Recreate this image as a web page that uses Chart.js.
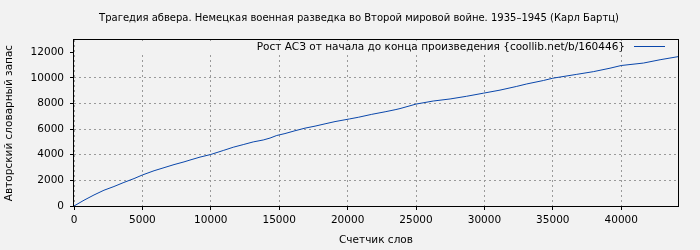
<!DOCTYPE html>
<html><head><meta charset="utf-8">
<script src="https://cdn.jsdelivr.net/npm/chart.js@4"></script>
<style>html,body{margin:0;padding:0;background:#f2f2f2;}#wrap{width:700px;height:250px;}</style>
</head><body><div id="wrap"><canvas id="c" width="700" height="250"></canvas></div>
<script>
const chartTitle = 'Трагедия абвера. Немецкая военная разведка во Второй мировой войне. 1935–1945 (Карл Бартц)';
const seriesLabel = 'Рост АСЗ от начала до конца произведения {coollib.net/b/160446}';
const xTitle = 'Счетчик слов';
const yTitle = 'Авторский словарный запас';
const words = [0, 730, 1460, 2190, 2920, 3650, 4390, 5000, 5850, 6580, 7310, 8040, 8480, 9210, 10000, 10910, 11640, 12370, 13100, 13830, 14330, 14820, 15420, 16150, 16890, 17620, 18350, 19080, 20130, 20780, 21760, 22740, 23470, 23830, 25000, 26260, 27490, 28700, 29920, 31140, 32360, 33090, 34310, 35000, 36750, 37960, 39180, 40000, 41620, 42840, 44150];
const vocab = [0, 450, 860, 1230, 1520, 1840, 2140, 2420, 2750, 2990, 3230, 3440, 3585, 3815, 4020, 4330, 4585, 4790, 5000, 5150, 5300, 5500, 5650, 5870, 6075, 6230, 6410, 6585, 6790, 6920, 7150, 7350, 7510, 7600, 7950, 8190, 8350, 8560, 8800, 9040, 9330, 9520, 9790, 9970, 10270, 10480, 10750, 10960, 11150, 11410, 11650];
const xTicks = [0, 5000, 10000, 15000, 20000, 25000, 30000, 35000, 40000];
const yTicks = [0, 2000, 4000, 6000, 8000, 10000, 12000];

const FONT = 'DejaVu Sans';
const bg = '#f2f2f2';

const deco = {
  id: 'deco',
  beforeDraw(chart) {
    const c = chart.ctx;
    c.save(); c.fillStyle = bg; c.fillRect(0, 0, chart.width, chart.height); c.restore();
  },
  beforeDatasetsDraw(chart) {
    const a = chart.chartArea, c = chart.ctx;
    c.save();
    c.fillStyle = bg;
    c.fillRect(a.left + 1, a.top + 1, a.right - a.left - 14, 11);
    c.restore();
  },
  afterDraw(chart) {
    const a = chart.chartArea, c = chart.ctx;
    c.save();
    c.strokeStyle = '#000'; c.lineWidth = 1; c.setLineDash([]);
    c.strokeRect(Math.round(a.left) - 0.5, Math.round(a.top) - 0.5, Math.round(a.right - a.left) + 1, Math.round(a.bottom - a.top) + 1);
    c.fillStyle = '#000';
    c.textAlign = 'center'; c.textBaseline = 'middle';
    c.font = '10px "' + FONT + '"';
    c.fillText(chartTitle, 359, 18);
    c.font = '10.5px "' + FONT + '"';
    c.fillText(xTitle, (a.left + a.right) / 2, 240);
    c.save();
    c.translate(9, (a.top + a.bottom) / 2);
    c.rotate(-Math.PI / 2);
    c.fillText(yTitle, 0, 0);
    c.restore();
    c.textAlign = 'right';
    c.fillText(seriesLabel, 625, 47);
    c.strokeStyle = chart.data.datasets[0].borderColor;
    c.beginPath(); c.moveTo(634, 46.5); c.lineTo(665, 46.5); c.stroke();
    c.restore();
  }
};

new Chart(document.getElementById('c'), {
  type: 'line',
  data: {
    datasets: [{
      label: seriesLabel,
      data: words.map((w, i) => ({x: w, y: vocab[i]})),
      borderColor: '#0a47ab',
      borderWidth: 1,
      pointRadius: 0,
      tension: 0,
      fill: false
    }]
  },
  options: {
    responsive: false,
    animation: false,
    devicePixelRatio: 1,
    layout: {padding: {top: 40, right: 22, left: 0, bottom: 0}},
    plugins: {legend: {display: false}, title: {display: false}, tooltip: {enabled: false}},
    scales: {
      x: {
        type: 'linear', min: 0, max: 44150,
        afterBuildTicks: s => { s.ticks = xTicks.map(v => ({value: v})); },
        afterFit: s => { s.height = 44; },
        border: {display: false, dash: [2, 3]},
        grid: {color: '#9a9a9a', lineWidth: 1, tickLength: 4, tickColor: '#000', tickBorderDash: [], drawOnChartArea: true},
        ticks: {color: '#000', font: {family: FONT, size: 10.5}, padding: 4, maxRotation: 0, autoSkip: false, callback: v => String(v)}
      },
      y: {
        type: 'linear', min: 0, max: 12950,
        afterBuildTicks: s => { s.ticks = yTicks.map(v => ({value: v})); },
        afterFit: s => { s.width = 74; },
        border: {display: false, dash: [2, 3]},
        grid: {color: c => (c.tick && c.tick.value === 12000) ? 'rgba(0,0,0,0)' : '#9a9a9a', lineWidth: 1, tickLength: 4, tickColor: '#000', tickBorderDash: [], drawOnChartArea: true},
        ticks: {color: '#000', font: {family: FONT, size: 10.5}, padding: 6, autoSkip: false, callback: v => String(v)}
      }
    }
  },
  plugins: [deco]
});
</script></body></html>
